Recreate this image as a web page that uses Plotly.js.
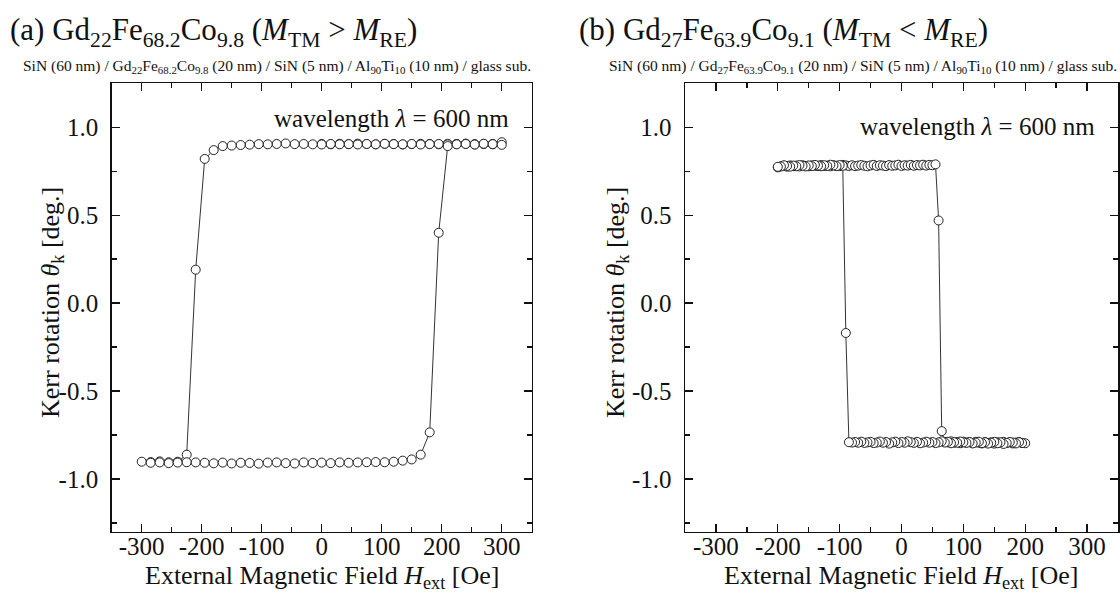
<!DOCTYPE html>
<html>
<head>
<meta charset="utf-8">
<script src="https://cdn.plot.ly/plotly-3.0.1.min.js"></script>
<style>
  html, body { margin: 0; padding: 0; background: #fff; }
  #chart { width: 1120px; height: 597px; }
</style>
</head>
<body>
<div id="chart"></div>
<script>
// ---- (a) Gd22Fe68.2Co9.8 : field sweeps 0 -> +300 -> -300 -> +300 Oe ----
const aFieldSweep1 = [0, 15, 30, 45, 60, 75, 90, 105, 120, 135, 150, 165, 180, 195, 210, 225, 240, 255, 270, 285, 300];
const aKerrSweep1  = [0.905, 0.903, 0.906, 0.904, 0.907, 0.905, 0.903, 0.906, 0.905, 0.902, 0.904, 0.906, 0.905, 0.903, 0.906, 0.905, 0.907, 0.904, 0.906, 0.905, 0.915];

const aFieldSweep2 = [285, 270, 255, 240, 225, 210, 195, 180, 165, 150, 135, 120, 105, 90, 75, 60, 45, 30, 15, 0,
                      -15, -30, -45, -60, -75, -90, -105, -120, -135, -150, -165, -180, -195, -210, -225, -240, -255, -270, -285, -300];
const aKerrSweep2  = [0.903, 0.905, 0.902, 0.906, 0.904, 0.903, 0.905, 0.904, 0.902, 0.905, 0.903, 0.904, 0.906, 0.903, 0.905, 0.902, 0.904, 0.903, 0.905, 0.902,
                      0.903, 0.905, 0.904, 0.908, 0.905, 0.903, 0.904, 0.901, 0.899, 0.896, 0.893, 0.870, 0.820, 0.190, -0.862, -0.902, -0.905, -0.900, -0.904, -0.902];

const aFieldSweep3 = [-285, -270, -255, -240, -225, -210, -195, -180, -165, -150, -135, -120, -105, -90, -75, -60, -45, -30, -15, 0,
                      15, 30, 45, 60, 75, 90, 105, 120, 135, 150, 165, 180, 195, 210, 225, 240, 255, 270, 285, 300];
const aKerrSweep3  = [-0.908, -0.906, -0.910, -0.907, -0.905, -0.906, -0.908, -0.911, -0.907, -0.912, -0.908, -0.909, -0.913, -0.907, -0.906, -0.910, -0.912, -0.906, -0.909, -0.907,
                      -0.910, -0.906, -0.908, -0.906, -0.905, -0.904, -0.905, -0.902, -0.896, -0.889, -0.862, -0.735, 0.400, 0.893, 0.903, 0.905, 0.902, 0.906, 0.904, 0.900];

// ---- (b) Gd27Fe63.9Co9.1 : field sweeps -200 -> +200 -> -200 Oe ----
const bFieldUp = [-200, -195, -190, -185, -180, -175, -170, -165, -160, -155, -150, -145, -140, -135, -130, -125, -120, -115, -110, -105,
                  -100, -95, -90, -85, -80, -75, -70, -65, -60, -55, -50, -45, -40, -35, -30, -25, -20, -15, -10, -5,
                  0, 5, 10, 15, 20, 25, 30, 35, 40, 45, 50, 55, 60, 65, 70, 75, 80, 85, 90, 95,
                  100, 105, 110, 115, 120, 125, 130, 135, 140, 145, 150, 155, 160, 165, 170, 175, 180, 185, 190, 195, 200];
const bKerrUp  = [0.772, 0.778, 0.781, 0.776, 0.783, 0.779, 0.782, 0.777, 0.784, 0.780,
                  0.778, 0.783, 0.781, 0.779, 0.785, 0.780, 0.782, 0.778, 0.784, 0.781,
                  0.779, 0.786, 0.783, 0.780, 0.784, 0.779, 0.782, 0.785, 0.781, 0.778,
                  0.783, 0.786, 0.780, 0.784, 0.782, 0.779, 0.785, 0.781, 0.783, 0.787,
                  0.780, 0.784, 0.782, 0.786, 0.781, 0.785, 0.783, 0.787, 0.782, 0.786,
                  0.784, 0.789, 0.470, -0.728,
                  -0.789, -0.792, -0.786, -0.794, -0.790, -0.797, -0.788, -0.793, -0.791, -0.796,
                  -0.789, -0.794, -0.798, -0.790, -0.795, -0.792, -0.799, -0.791, -0.794, -0.789,
                  -0.796, -0.792, -0.798, -0.793, -0.790, -0.795, -0.797];

const bFieldDown = [195, 190, 185, 180, 175, 170, 165, 160, 155, 150, 145, 140, 135, 130, 125, 120, 115, 110, 105, 100,
                    95, 90, 85, 80, 75, 70, 65, 60, 55, 50, 45, 40, 35, 30, 25, 20, 15, 10, 5, 0,
                    -5, -10, -15, -20, -25, -30, -35, -40, -45, -50, -55, -60, -65, -70, -75, -80, -85, -90, -95, -100,
                    -105, -110, -115, -120, -125, -130, -135, -140, -145, -150, -155, -160, -165, -170, -175, -180, -185, -190, -195, -200];
const bKerrDown  = [-0.796, -0.791, -0.798, -0.793, -0.790, -0.795, -0.801, -0.792, -0.797, -0.789,
                    -0.794, -0.799, -0.791, -0.796, -0.788, -0.793, -0.798, -0.790, -0.795, -0.792,
                    -0.787, -0.794, -0.791, -0.797, -0.789, -0.793, -0.786, -0.792, -0.796, -0.790,
                    -0.794, -0.788, -0.793, -0.797, -0.789, -0.795, -0.791, -0.786, -0.794, -0.790,
                    -0.796, -0.788, -0.792, -0.799, -0.790, -0.794, -0.787, -0.793, -0.796, -0.789,
                    -0.792, -0.795, -0.788, -0.794, -0.790, -0.793, -0.791, -0.170,
                    0.781, 0.785, 0.779, 0.783, 0.787, 0.780, 0.784, 0.778, 0.782, 0.786,
                    0.779, 0.783, 0.777, 0.781, 0.785, 0.778, 0.782, 0.776, 0.780, 0.784, 0.777, 0.775];

// ---- tick labels ----
const fieldTicks = [-300, -200, -100, 0, 100, 200, 300];
const fieldTickText = ['-300', '-200', '-100', '0', '100', '200', '300'];
const kerrTicks = [-1.0, -0.5, 0.0, 0.5, 1.0];
const kerrTickText = ['-1.0', '-0.5', '0.0', '0.5', '1.0'];

const FONT = 'Liberation Serif, Times New Roman, serif';
const INK = '#111';
const W = 1120, H = 597;
const px = v => v / W;          // pixel -> paper (x)
const py = v => 1 - v / H;      // pixel -> paper (y)

const markerStyle = { symbol: 'circle', size: 9, color: '#fff', line: { color: '#222', width: 1 } };
const lineStyle = { color: '#333', width: 1 };

const traces = [
  {
    x: aFieldSweep1.concat(aFieldSweep2, aFieldSweep3),
    y: aKerrSweep1.concat(aKerrSweep2, aKerrSweep3),
    xaxis: 'x', yaxis: 'y',
    mode: 'lines+markers', marker: markerStyle, line: lineStyle,
    hoverinfo: 'x+y', showlegend: false
  },
  {
    x: bFieldUp.concat(bFieldDown),
    y: bKerrUp.concat(bKerrDown),
    xaxis: 'x2', yaxis: 'y2',
    mode: 'lines+markers', marker: markerStyle, line: lineStyle,
    hoverinfo: 'x+y', showlegend: false
  }
];

function fieldAxis(domain, anchor) {
  return {
    domain: domain, anchor: anchor, range: [-350, 350],
    tickmode: 'array', tickvals: fieldTicks, ticktext: fieldTickText,
    ticks: 'inside', ticklen: 8, tickwidth: 1.3, tickcolor: INK,
    minor: { tickmode: 'linear', tick0: 0, dtick: 50, ticks: 'inside', ticklen: 5, tickwidth: 1.3, tickcolor: INK, showgrid: false },
    showline: true, linecolor: INK, linewidth: 1.5, mirror: 'ticks',
    showgrid: false, zeroline: false,
    ticklabelstandoff: -8,
    tickfont: { family: FONT, size: 25, color: INK }
  };
}
function kerrAxis(domain, anchor) {
  return {
    domain: domain, anchor: anchor, range: [-1.3, 1.25],
    tickmode: 'array', tickvals: kerrTicks, ticktext: kerrTickText,
    ticks: 'inside', ticklen: 8, tickwidth: 1.3, tickcolor: INK,
    minor: { tickmode: 'linear', tick0: 0, dtick: 0.25, ticks: 'inside', ticklen: 5, tickwidth: 1.3, tickcolor: INK, showgrid: false },
    showline: true, linecolor: INK, linewidth: 1.5, mirror: 'ticks',
    showgrid: false, zeroline: false,
    ticklabelstandoff: 7,
    tickfont: { family: FONT, size: 25, color: INK }
  };
}

const yDom = [py(531.7), py(83.3)];

const annotations = [
  // panel headings
  { text: '(a) Gd<sub>22</sub>Fe<sub>68.2</sub>Co<sub>9.8</sub> (<i>M</i><sub>TM</sub> &gt; <i>M</i><sub>RE</sub>)',
    xref: 'paper', yref: 'paper', x: px(8), y: py(32), xanchor: 'left', yanchor: 'middle',
    showarrow: false, font: { family: FONT, size: 31, color: INK } },
  { text: '(b) Gd<sub>27</sub>Fe<sub>63.9</sub>Co<sub>9.1</sub> (<i>M</i><sub>TM</sub> &lt; <i>M</i><sub>RE</sub>)',
    xref: 'paper', yref: 'paper', x: px(577), y: py(32), xanchor: 'left', yanchor: 'middle',
    showarrow: false, font: { family: FONT, size: 31, color: INK } },
  // layer stacks
  { text: 'SiN (60 nm) / Gd<sub>22</sub>Fe<sub>68.2</sub>Co<sub>9.8</sub> (20 nm) / SiN (5 nm) / Al<sub>90</sub>Ti<sub>10</sub> (10 nm) / glass sub.',
    xref: 'paper', yref: 'paper', x: px(533), y: py(66), xanchor: 'right', yanchor: 'middle',
    showarrow: false, font: { family: FONT, size: 15.5, color: INK } },
  { text: 'SiN (60 nm) / Gd<sub>27</sub>Fe<sub>63.9</sub>Co<sub>9.1</sub> (20 nm) / SiN (5 nm) / Al<sub>90</sub>Ti<sub>10</sub> (10 nm) / glass sub.',
    xref: 'paper', yref: 'paper', x: px(1119), y: py(66), xanchor: 'right', yanchor: 'middle',
    showarrow: false, font: { family: FONT, size: 15.5, color: INK } },
  // wavelength notes
  { text: 'wavelength <i>λ</i> = 600 nm', xref: 'paper', yref: 'paper', x: px(511), y: py(118),
    xanchor: 'right', yanchor: 'middle', showarrow: false, font: { family: FONT, size: 25, color: INK } },
  { text: 'wavelength <i>λ</i> = 600 nm', xref: 'paper', yref: 'paper', x: px(1097), y: py(127),
    xanchor: 'right', yanchor: 'middle', showarrow: false, font: { family: FONT, size: 25, color: INK } },
  // axis titles
  { text: 'Kerr rotation <i>θ</i><sub>k</sub> [deg.]', xref: 'paper', yref: 'paper', x: px(52), y: py(303),
    xanchor: 'center', yanchor: 'middle', textangle: -90, showarrow: false, font: { family: FONT, size: 26, color: INK } },
  { text: 'Kerr rotation <i>θ</i><sub>k</sub> [deg.]', xref: 'paper', yref: 'paper', x: px(617), y: py(303),
    xanchor: 'center', yanchor: 'middle', textangle: -90, showarrow: false, font: { family: FONT, size: 26, color: INK } },
  { text: 'External Magnetic Field <i>H</i><sub>ext</sub> [Oe]', xref: 'paper', yref: 'paper', x: px(322), y: py(577),
    xanchor: 'center', yanchor: 'middle', showarrow: false, font: { family: FONT, size: 26, color: INK } },
  { text: 'External Magnetic Field <i>H</i><sub>ext</sub> [Oe]', xref: 'paper', yref: 'paper', x: px(901), y: py(577),
    xanchor: 'center', yanchor: 'middle', showarrow: false, font: { family: FONT, size: 26, color: INK } }
];

const layout = {
  width: W, height: H,
  margin: { l: 0, r: 0, t: 0, b: 0 },
  paper_bgcolor: '#fff', plot_bgcolor: '#fff',
  showlegend: false,
  font: { family: FONT, color: INK },
  xaxis: fieldAxis([px(111.7), px(531.7)], 'y'),
  yaxis: kerrAxis(yDom, 'x'),
  xaxis2: fieldAxis([px(685), px(1118)], 'y2'),
  yaxis2: kerrAxis(yDom, 'x2'),
  annotations: annotations
};

Plotly.newPlot('chart', traces, layout, { staticPlot: true, displayModeBar: false });
</script>
</body>
</html>
